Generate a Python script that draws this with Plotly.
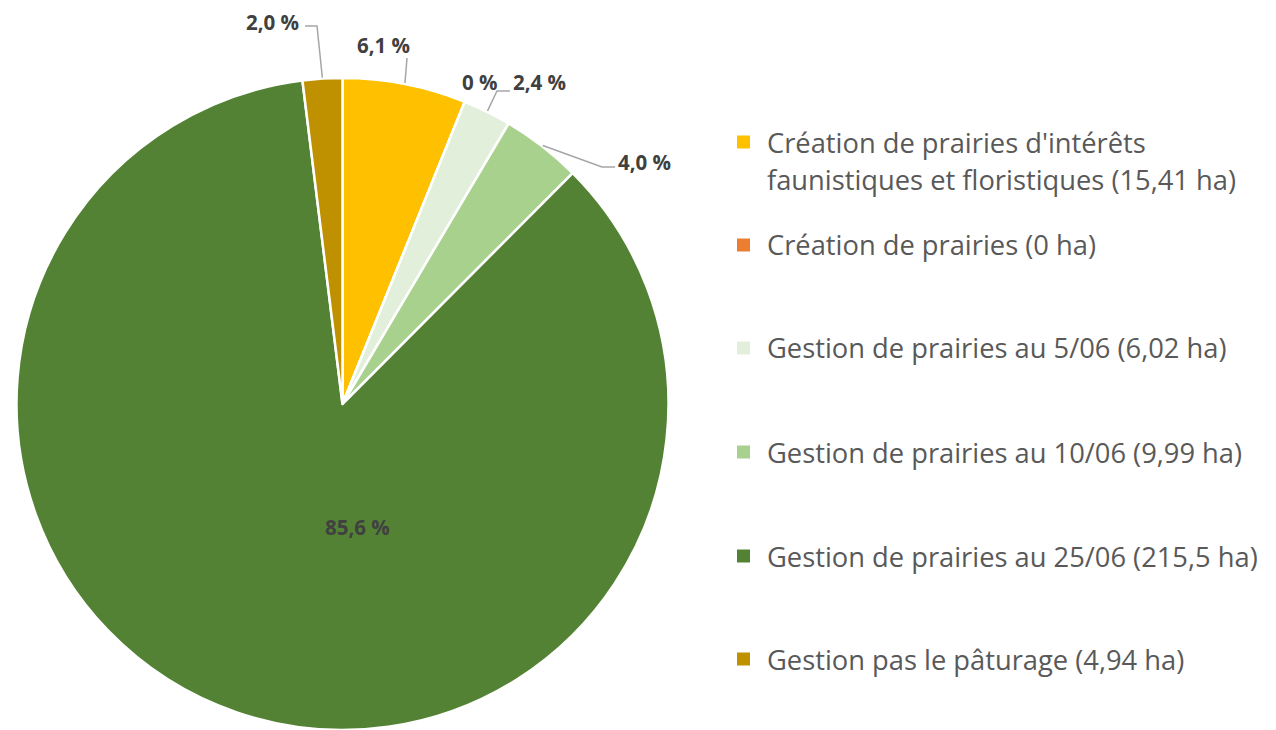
import math
import plotly.graph_objects as go

# ---- data ----
categories = [
    "Création de prairies d'intérêts faunistiques et floristiques",
    "Création de prairies",
    "Gestion de prairies au 5/06",
    "Gestion de prairies au 10/06",
    "Gestion de prairies au 25/06",
    "Gestion pas le pâturage",
]
hectares = [15.41, 0, 6.02, 9.99, 215.5, 4.94]
hectare_labels = ["15,41", "0", "6,02", "9,99", "215,5", "4,94"]
colors = ["#FFC000", "#ED7D31", "#E2EFDA", "#A9D18E", "#548235", "#BF9000"]

# ---- layout helpers (page pixel space; page body has an 8px margin) ----
OFF = 8
W, H = 1276 - OFF, 730 - OFF
CX, CY, R = 342.5, 404.0, 326.0


def px(x):
    return (x - OFF) / W


def py(y):
    return 1 - (y - OFF) / H


total = sum(hectares)
shares = [v / total * 100 for v in hectares]


def pct_text(p):
    if p == 0:
        return "0 %"
    return f"{p:.1f}".replace(".", ",") + " %"


fig = go.Figure(
    go.Pie(
        labels=categories,
        values=hectares,
        sort=False,
        direction="clockwise",
        rotation=0,
        textinfo="none",
        hoverinfo="label+percent",
        marker=dict(colors=colors, line=dict(color="white", width=2.5)),
        domain=dict(x=[px(CX - R), px(CX + R)],
                    y=[max(0.0, py(CY + R)), py(CY - R)]),
        showlegend=False,
    )
)

# mid angles of slices (degrees clockwise from top)
mids = []
cum = 0
for s in shares:
    mids.append((cum + s / 2) * 3.6)
    cum += s


def edge(i, rr=R):
    a = math.radians(mids[i])
    return CX + rr * math.sin(a), CY - rr * math.cos(a)


# label placement (text centre, leader elbow points) in pixels
label_pos = {
    0: dict(text=(383, 45), path=[(407, 58)]),
    1: dict(text=(480, 82), path=None),
    2: dict(text=(539, 82), path=[(497, 91), (510, 91)]),
    3: dict(text=(644, 162), path=[(602, 167), (615, 167)]),
    4: dict(text=(357, 527), path=None),
    5: dict(text=(272, 22), path=[(317, 26), (305, 26)]),
}

annotations = []
shapes = []
lead_color = "#A6A6A6"
for i, s in enumerate(shares):
    pos = label_pos[i]
    tx, ty = pos["text"]
    annotations.append(dict(
        x=px(tx), y=py(ty), xref="paper", yref="paper",
        text=f"<b>{pct_text(s)}</b>", showarrow=False,
        xanchor="center", yanchor="middle", borderpad=0,
        font=dict(family="Open Sans", size=20.5, color="#404040"),
    ))
    if pos["path"]:
        pts = [edge(i, R + 1)] + pos["path"]
        d = "M " + " L ".join(f"{px(x)},{py(y)}" for x, y in pts)
        shapes.append(dict(type="path", path=d, xref="paper", yref="paper",
                           line=dict(color=lead_color, width=1.5)))

# legend (drawn manually to reproduce spacing)
leg_x_sq0, leg_x_sq1, leg_x_txt = 737, 750, 765
legend_rows = [
    (142, ["Création de prairies d'intérêts",
           f"faunistiques et floristiques ({hectare_labels[0]} ha)"]),
    (245, [f"{categories[1]} ({hectare_labels[1]} ha)"]),
    (348, [f"{categories[2]} ({hectare_labels[2]} ha)"]),
    (452, [f"{categories[3]} ({hectare_labels[3]} ha)"]),
    (556, [f"{categories[4]} ({hectare_labels[4]} ha)"]),
    (659, [f"{categories[5]} ({hectare_labels[5]} ha)"]),
]
for k, (yc, lines) in enumerate(legend_rows):
    shapes.append(dict(type="rect", xref="paper", yref="paper",
                       x0=px(leg_x_sq0), x1=px(leg_x_sq1),
                       y0=py(yc + 6.5), y1=py(yc - 6.5),
                       fillcolor=colors[k], line=dict(width=0)))
    for j, line in enumerate(lines):
        annotations.append(dict(
            x=px(leg_x_txt), y=py(yc + j * 38), xref="paper", yref="paper",
            text=line, showarrow=False, xanchor="left", yanchor="middle",
            font=dict(family="Open Sans", size=27.3, color="#595959"),
        ))

fig.update_layout(
    width=W, height=H,
    margin=dict(l=0, r=0, t=0, b=0),
    paper_bgcolor="white", plot_bgcolor="white",
    annotations=annotations, shapes=shapes,
)

fig.write_html("out.html")
